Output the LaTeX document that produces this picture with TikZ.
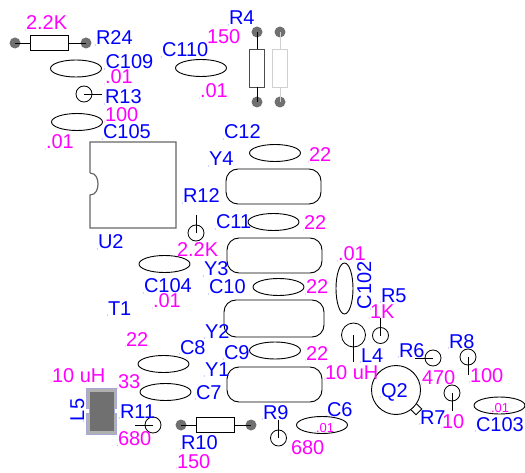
\documentclass[tikz,border=0pt]{standalone}
\usepackage{fontspec}
\setmainfont{Liberation Sans}
\definecolor{ref}{HTML}{0000FF}
\definecolor{val}{HTML}{FF00FF}
\definecolor{padc}{HTML}{707070}
\definecolor{ghost}{HTML}{D0D0D0}
\definecolor{icc}{HTML}{666666}
\definecolor{lfill}{HTML}{B0B0B0}
\definecolor{ledge}{HTML}{A8A8D8}
\tikzset{
  lblbase/.style={inner sep=0pt,outer sep=0pt,anchor=base west,font=\fontsize{20}{20}\selectfont},
  reflbl/.style={lblbase,text=ref,append after command={\pgfextra{\fill[ref] (\tikzlastnode.base west) ++(-0.8,0) circle (0.45pt);}}},
  vallbl/.style={lblbase,text=val,append after command={\pgfextra{\fill[val] (\tikzlastnode.base west) ++(-0.8,0) circle (0.45pt);}}},
  smallval/.style={vallbl,font=\fontsize{13}{13}\selectfont},
  capbody/.style={draw=black,line width=0.9pt,ellipse,minimum width=51pt,minimum height=17pt,inner sep=0pt},
  xtal/.style={draw=black,line width=0.9pt,rounded corners=12pt,minimum width=95pt,minimum height=35pt,inner sep=0pt},
  pad/.style={circle,fill=padc,minimum size=11pt,inner sep=0pt},
  resbody/.style={draw=black,fill=white,line width=0.9pt,minimum width=38pt,minimum height=15pt,inner sep=0pt},
  vresbody/.style={draw=black,fill=white,line width=0.9pt,minimum width=15pt,minimum height=38pt,inner sep=0pt},
  pin/.style={circle,draw=black,line width=0.8pt,minimum size=16pt,inner sep=0pt},
  lead/.style={draw=black,line width=0.9pt},
}
\usetikzlibrary{shapes.geometric}
\begin{document}
\begin{tikzpicture}[x=1pt,y=-1pt]
\useasboundingbox (0,0) rectangle (525,473);
% Resistor R24
\node[pad] (r24a) at (15,43) {};
\node[pad] (r24b) at (86,43) {};
\node[resbody] (r24) at (49.5,43) {};
\draw[lead] (r24a.center) -- (r24.west);
\draw[lead] (r24.east) -- (r24b.center);
% R4 and its ghost
\node[pad] (r4a) at (257,32) {};
\node[pad] (r4b) at (257,102) {};
\node[vresbody,draw=black!70] (r4) at (257,68) {};
\draw[lead] (r4a.center) -- (r4.north);
\draw[lead] (r4.south) -- (r4b.center);
\node[pad] (g4a) at (280,32) {};
\node[pad] (g4b) at (280,102) {};
\node[vresbody,draw=ghost] (g4) at (280,68) {};
\draw[lead,draw=ghost] (g4a.center) -- (g4.north);
\draw[lead,draw=ghost] (g4.south) -- (g4b.center);
% R10
\node[pad] (r10a) at (181,425) {};
\node[pad] (r10b) at (251,425) {};
\node[resbody] (r10) at (215,425) {};
\draw[lead] (r10a.center) -- (r10.west);
\draw[lead] (r10.east) -- (r10b.center);
% Capacitors
\node[capbody] (c109) at (76,68.5) {};
\node[capbody] (c105) at (77,122) {};
\node[capbody] (c110) at (201,68) {};
\node[capbody] (c12) at (275,153) {};
\node[capbody] (c11) at (273.5,222) {};
\node[capbody] (c104) at (164.5,264) {};
\node[capbody] (c10) at (278.5,287) {};
\node[capbody] (c9) at (275,350.5) {};
\node[capbody] (c8) at (163.5,364) {};
\node[capbody] (c7) at (165.5,392) {};
\node[capbody] (c6) at (322,425) {};
\node[capbody] (c103) at (499.5,405.5) {};
\node[capbody,rotate=90] (c102) at (344.5,288.5) {};
% Crystals
\node[xtal] (y4) at (273.5,186.5) {};
\node[xtal] (y3) at (274.5,255.5) {};
\node[xtal,minimum width=100pt,minimum height=37pt] (y2) at (274,318.5) {};
\node[xtal] (y1) at (274.5,384.5) {};
% IC
\coordinate (ic1) at (90,173);
\coordinate (ic2) at (90,195);
\draw[draw=icc,line width=1.2pt] (ic1) -- (90,142) -- (176,142) -- (176,228) -- (90,228) -- (ic2)
  .. controls (96,195) and (98,189) .. (98,184) .. controls (98,179) and (96,173) .. (ic1);
% Single-pin resistors
\node[pin] (r13) at (84,94) {};
\coordinate (r13e) at (102,94);
\draw[lead] (r13.center) -- (r13e);
\node[pin] (r12) at (196,233) {};
\coordinate (r12e) at (196,215);
\draw[lead] (r12.center) -- (r12e);
\node[pin] (r5) at (380.5,335.5) {};
\coordinate (r5e) at (380.5,317.5);
\draw[lead] (r5.center) -- (r5e);
\node[pin] (r6) at (433,358) {};
\coordinate (r6e) at (415,358);
\draw[lead] (r6.center) -- (r6e);
\node[pin] (r8) at (468,357) {};
\coordinate (r8e) at (468,375);
\draw[lead] (r8.center) -- (r8e);
\node[pin] (r7) at (452,393) {};
\coordinate (r7e) at (452,411);
\draw[lead] (r7.center) -- (r7e);
\node[pin] (r9) at (278.5,438) {};
\coordinate (r9e) at (278.5,420);
\draw[lead] (r9.center) -- (r9e);
\node[pin] (r11) at (153,425) {};
\coordinate (r11e) at (135,425);
\draw[lead] (r11.center) -- (r11e);
% L4
\node[pin,minimum size=24pt] (l4) at (353.5,335) {};
\coordinate (l4e) at (353.5,362);
\draw[lead] (l4.center) -- (l4e);
% Q2
\node[draw=black,line width=0.9pt,fill=white,rotate=45,minimum size=8pt,inner sep=0pt] (qtab) at (416,409) {};
\node[circle,draw=black,line width=0.9pt,fill=white,minimum size=49pt,inner sep=0pt] (q2) at (396,390) {};
% L5
\path[draw=ledge,fill=lfill,line width=0.7pt] (86,388) -- (116,388) -- (116,408) -- (114,408) -- (114,413) -- (116,413) -- (116,434) -- (86,434) -- (86,413) -- (89,413) -- (89,408) -- (86,408) -- cycle;
\fill[padc] (90,392) rectangle (114,431);
% Labels
\node[vallbl] (t1) at (26,30) {2.2K};
\node[reflbl] (t2) at (96,45) {R24};
\node[reflbl] (t3) at (105.5,69) {C109};
\node[vallbl] (t4) at (105,84) {.01};
\node[reflbl] (t5) at (105,104) {R13};
\node[vallbl] (t6) at (105,122) {100};
\node[reflbl] (t7) at (103,139) {C105};
\node[vallbl] (t8) at (46,149) {.01};
\node[reflbl] (t9) at (162,57) {C110};
\node[vallbl] (t10) at (207,44) {150};
\node[vallbl] (t11) at (200,98) {.01};
\node[reflbl] (t12) at (229,25) {R4};
\node[reflbl] (t13) at (224,139) {C12};
\node[reflbl] (t14) at (209,166) {Y4};
\node[vallbl] (t15) at (309,162) {22};
\node[reflbl] (t16) at (183,203) {R12};
\node[reflbl] (t17) at (216,229) {C11};
\node[vallbl] (t18) at (304,230) {22};
\node[reflbl] (t19) at (98,249) {U2};
\node[vallbl] (t20) at (177,257) {2.2K};
\node[reflbl] (t21) at (204,276) {Y3};
\node[reflbl] (t22) at (144,293) {C104};
\node[vallbl] (t23) at (153,308) {.01};
\node[reflbl] (t24) at (209,294) {C10};
\node[vallbl] (t25) at (306,294) {22};
\node[reflbl] (t26) at (108,315) {T1};
\node[reflbl] (t27) at (205,338) {Y2};
\node[vallbl] (t28) at (126,346) {22};
\node[reflbl] (t29) at (180,354) {C8};
\node[reflbl] (t30) at (224,359) {C9};
\node[vallbl] (t31) at (306,360) {22};
\node[reflbl] (t32) at (205,376) {Y1};
\node[vallbl] (t33) at (52,382) {10 uH};
\node[vallbl] (t34) at (118,388) {33};
\node[reflbl] (t35) at (196,399) {C7};
\node[reflbl,rotate=90] (t36) at (84,421) {L5};
\node[reflbl] (t37) at (120,418) {R11};
\node[vallbl] (t38) at (118,445.5) {680};
\node[reflbl] (t39) at (181,449) {R10};
\node[vallbl] (t40) at (177,468) {150};
\node[reflbl] (t41) at (263,419) {R9};
\node[vallbl] (t42) at (291,454) {680};
\node[reflbl] (t43) at (327,416) {C6};
\node[smallval] (t44) at (316,432) {.01};
\node[vallbl] (t45) at (338,261) {.01};
\node[reflbl,rotate=90] (t46) at (371,309) {C102};
\node[reflbl] (t47) at (381,302) {R5};
\node[vallbl] (t48) at (370,318) {1K};
\node[reflbl] (t49) at (361,362) {L4};
\node[vallbl] (t50) at (325,379) {10 uH};
\node[reflbl] (t51) at (399,357) {R6};
\node[vallbl] (t52) at (422,384) {470};
\node[reflbl] (t53) at (449,348) {R8};
\node[vallbl] (t54) at (470,382) {100};
\node[reflbl] (t55) at (381,397) {Q2};
\node[reflbl] (t56) at (420,424) {R7};
\node[vallbl] (t57) at (442,428) {10};
\node[smallval] (t58) at (491,412) {.01};
\node[reflbl] (t59) at (476,431) {C103};
\end{tikzpicture}
\end{document}
